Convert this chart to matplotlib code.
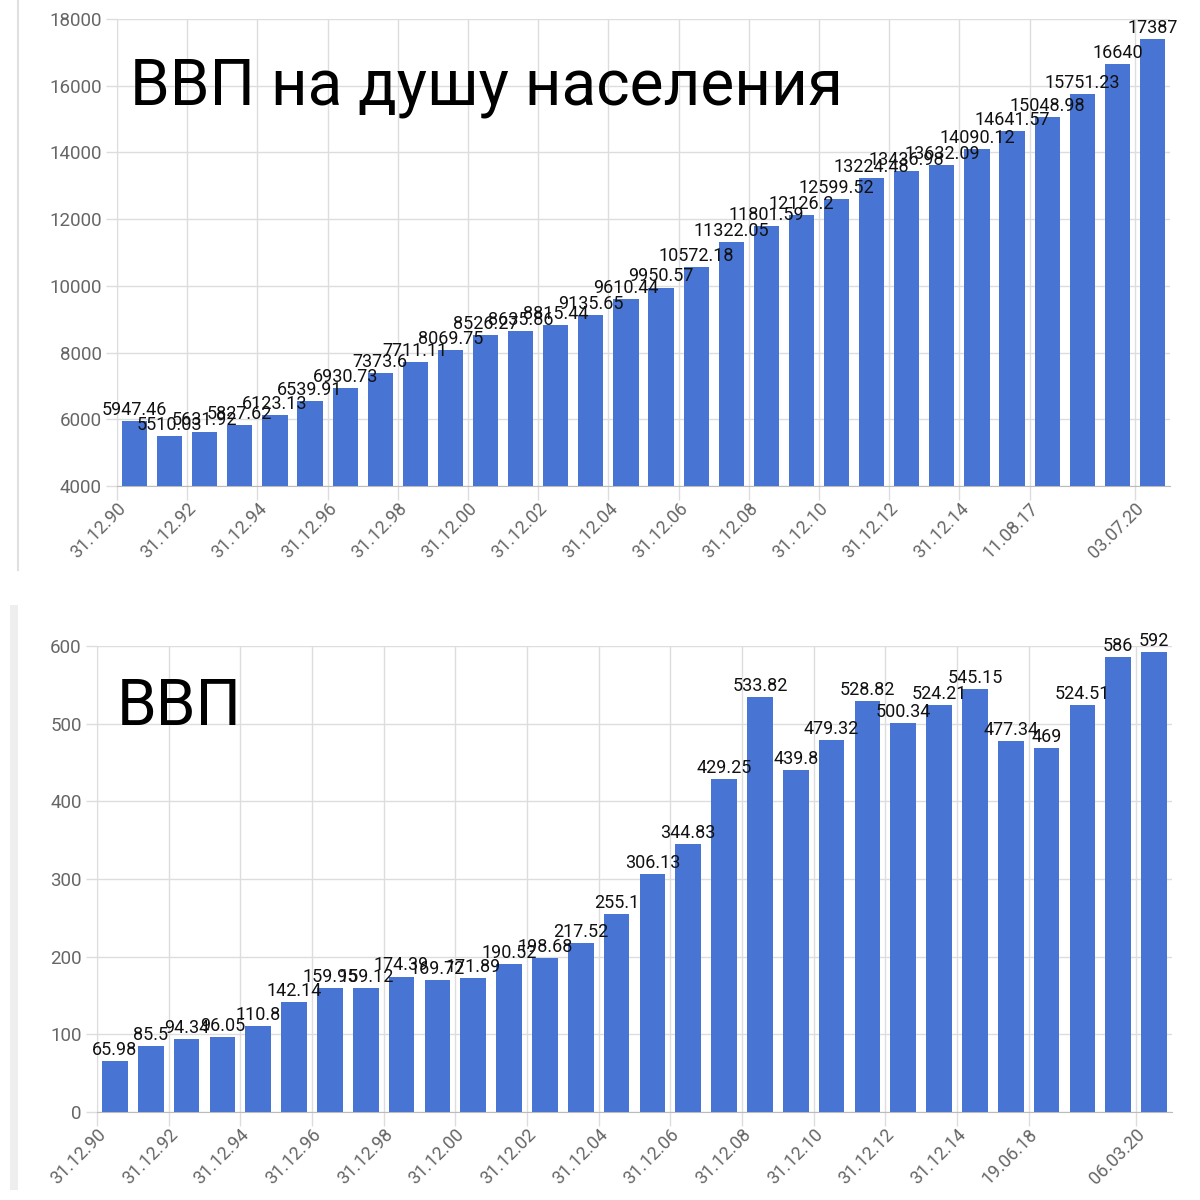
import matplotlib
matplotlib.use("Agg")
import matplotlib.pyplot as plt
import numpy as np

plt.rcParams["font.family"] = ["Roboto", "DejaVu Sans"]

# GDP per capita (top chart)
gdp_pc = [5947.46, 5510.03, 5631.92, 5827.62, 6123.13, 6539.91, 6930.73, 7373.6,
          7711.11, 8069.75, 8526.27, 8635.86, 8815.44, 9135.65, 9610.44, 9950.57,
          10572.18, 11322.05, 11801.59, 12126.2, 12599.52, 13224.48, 13436.98,
          13632.09, 14090.12, 14641.57, 15048.98, 15751.23, 16640, 17387]
top_tick_idx = [0, 2, 4, 6, 8, 10, 12, 14, 16, 18, 20, 22, 24, 26, 29]
top_tick_labels = ["31.12.90", "31.12.92", "31.12.94", "31.12.96", "31.12.98",
                   "31.12.00", "31.12.02", "31.12.04", "31.12.06", "31.12.08",
                   "31.12.10", "31.12.12", "31.12.14", "11.08.17", "03.07.20"]

# GDP (bottom chart)
gdp = [65.98, 85.5, 94.34, 96.05, 110.8, 142.14, 159.95, 159.12, 174.39, 169.72,
       171.89, 190.52, 198.68, 217.52, 255.1, 306.13, 344.83, 429.25, 533.82, 439.8,
       479.32, 528.82, 500.34, 524.21, 545.15, 477.34, 469, 524.51, 586, 592]
bot_tick_idx = [0, 2, 4, 6, 8, 10, 12, 14, 16, 18, 20, 22, 24, 26, 29]
bot_tick_labels = ["31.12.90", "31.12.92", "31.12.94", "31.12.96", "31.12.98",
                   "31.12.00", "31.12.02", "31.12.04", "31.12.06", "31.12.08",
                   "31.12.10", "31.12.12", "31.12.14", "19.06.18", "06.03.20"]

BAR = "#4874d4"
GRID = "#dddddd"


def fmt(v):
    return ("%.2f" % v).rstrip("0").rstrip(".")


def draw(ax, values, ylim, yticks, tick_idx, tick_labels):
    x = np.arange(len(values))
    ax.bar(x, np.array(values) - ylim[0], bottom=ylim[0], width=0.72,
           color=BAR, zorder=3)
    for xi, v in zip(x, values):
        ax.annotate(fmt(v), (xi, v), xytext=(0, 1.5), textcoords="offset points",
                    ha="center", va="bottom", fontsize=13, color="#111111",
                    zorder=5, annotation_clip=False)
    ax.set_xlim(-0.5, len(values) - 0.5)
    ax.set_ylim(*ylim)
    ax.set_yticks(yticks)
    ax.set_xticks(np.array(tick_idx) - 0.5)
    ax.set_xticklabels(tick_labels, rotation=45, ha="right",
                       rotation_mode="anchor")
    ax.tick_params(axis="x", colors=GRID, length=10, width=1, labelcolor="#666666",
                   labelsize=13, pad=0)
    ax.tick_params(axis="y", colors=GRID, length=8, width=1, labelcolor="#666666",
                   labelsize=13.5, pad=3)
    ax.grid(True, color=GRID, lw=1, zorder=0)
    for s in ["top", "right"]:
        ax.spines[s].set_visible(False)
    ax.spines["left"].set_color(GRID)
    ax.spines["bottom"].set_color("#bbbbbb")


fig = plt.figure(figsize=(12, 12), dpi=100)

ax1 = fig.add_axes([117 / 1200, 1 - 486 / 1200, 1053 / 1200, 467 / 1200])
draw(ax1, gdp_pc, (4000, 18000), range(4000, 18001, 2000), top_tick_idx, top_tick_labels)
fig.text(130 / 1200, 1 - 105 / 1200, "ВВП на душу населения",
         fontsize=46, color="black", va="baseline", ha="left", zorder=6)

ax2 = fig.add_axes([97 / 1200, 1 - 1112 / 1200, 1075 / 1200, 466 / 1200])
draw(ax2, gdp, (0, 600), range(0, 601, 100), bot_tick_idx, bot_tick_labels)
fig.text(117 / 1200, 1 - 725 / 1200, "ВВП",
         fontsize=46, color="black", va="baseline", ha="left", zorder=6)

# screenshot borders
fig.add_artist(plt.Line2D([18 / 1200, 18 / 1200], [1 - 570 / 1200, 1], color="#e0e0e0", lw=1.5))
fig.add_artist(plt.Rectangle((10 / 1200, 10 / 1200), 8 / 1200, 585 / 1200,
                             color="#eeeeee", lw=0))

fig.savefig("out.png", dpi=100)
